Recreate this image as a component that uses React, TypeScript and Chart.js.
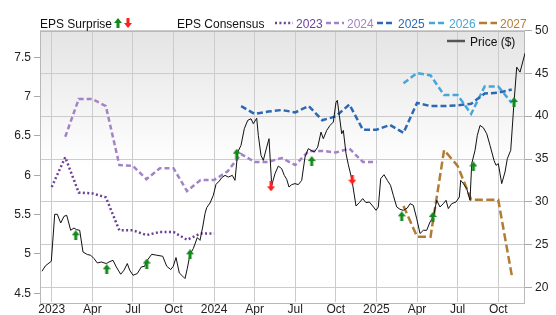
import React, { useEffect, useRef } from 'react';
import { Chart, registerables } from 'chart.js';

Chart.register(...registerables);

// ---- axis ticks ----
const xTickMonths = [0, 3, 6, 9, 12, 15, 18, 21, 24, 27, 30, 33];
const xTickLabels = ['2023', 'Apr', 'Jul', 'Oct', '2024', 'Apr', 'Jul', 'Oct', '2025', 'Apr', 'Jul', 'Oct'];
const leftTicks = [4.5, 5, 5.5, 6, 6.5, 7, 7.5];
const rightTicks = [20, 25, 30, 35, 40, 45, 50];

// ---- price (months since Jan 2023, $) ----
const priceMonths = [
  -0.717, -0.473, -0.03, 0.222, 0.414, 0.665, 0.909, 1.109, 1.404, 1.648, 1.818, 2.069, 2.313, 2.631, 2.882,
  3.126, 3.37, 3.666, 4.035, 4.235, 4.531, 4.775, 5.1, 5.344, 5.588, 5.765, 6.009, 6.327, 6.622, 6.874, 6.97,
  7.391, 7.761, 8.204, 8.5, 8.795, 8.987, 9.187, 9.431, 9.682, 9.852, 10.022, 10.222, 10.466, 10.761, 10.961,
  11.16, 11.33, 11.456, 11.7, 11.944, 12.143, 12.387, 12.565, 12.808, 13.052, 13.348, 13.548, 13.747, 13.991,
  14.235, 14.486, 14.73, 14.9, 15.152, 15.27, 15.469, 15.639, 15.891, 16.061, 16.26, 16.504, 16.748, 16.999,
  17.191, 17.369, 17.539, 17.738, 17.982, 18.226, 18.477, 18.721, 18.965, 19.165, 19.409, 19.66, 19.904,
  20.074, 20.325, 20.569, 20.813, 21.013, 21.109, 21.257, 21.434, 21.552, 21.752, 21.922, 22.173, 22.491,
  22.735, 22.986, 23.23, 23.474, 23.725, 23.969, 24.139, 24.316, 24.56, 24.804, 25.041, 25.248, 25.499,
  25.743, 25.987, 26.282, 26.482, 26.726, 26.977, 27.221, 27.465, 27.716, 27.96, 28.204, 28.455, 28.699,
  28.943, 29.143, 29.313, 29.564, 29.882, 30.126, 30.229, 30.421, 30.673, 30.917, 31.042, 31.286, 31.456,
  31.656, 31.9, 32.151, 32.395, 32.69, 32.838, 33.008, 33.259, 33.503, 33.673, 33.925, 34.169, 34.368,
  34.612, 34.982,
];
const priceValues = [
  21.9, 22.52, 23.07, 28.55, 28.55, 27.53, 28.31, 28.43, 26.68, 26.95, 26.76, 26.68, 24.15, 23.85, 23.77,
  23.38, 22.87, 22.98, 22.8, 22.98, 23.18, 22.4, 21.55, 22.02, 22.8, 22.02, 21.43, 21.63, 22.4, 22.48, 22.98,
  23.88, 23.77, 23.65, 22.48, 22.1, 22.48, 23.5, 21.7, 21.32, 21.05, 22.22, 23.88, 24.55, 25.83, 25.51,
  27.07, 28.63, 29.33, 29.86, 30.76, 32.04, 32.43, 32.82, 33.09, 32.89, 33.09, 32.51, 35.81, 36.59,
  38.54, 39.51, 39.7, 39.12, 39.77, 37.76, 35.42, 34.84, 36.39, 37.37, 31.93, 33.29, 34.18, 33.87,
  33.09, 32.63, 31.73, 32.01, 32.13, 32.01, 32.51, 35.23, 36.21, 36.01, 35.81, 36.39, 38.14,
  37.37, 38.34, 38.92, 39.31, 41.64, 41.84, 40.09, 37.95, 38.34, 35.62, 34.34, 32.71, 29.51,
  29.91, 30.38, 29.91, 29.98, 29.51, 29.01, 29.4, 32.71, 33.17, 32.51, 31.93, 30.76, 29.4,
  29.13, 29.01, 29.28, 29.79, 29.6, 28.04, 26.3, 26.68, 26.68, 27.65, 28.23, 30.18, 29.4,
  29.79, 30.18, 29.21, 29.79, 29.98, 30.56, 32.51, 32.13, 31.54, 30.18, 34.46, 36.01, 37.76,
  38.92, 38.65, 37.95, 36.59, 34.84, 34.26, 34.46, 32.13, 33.48, 35.04, 36.01, 41.64, 45.72,
  45.14, 47.35,
];

// ---- EPS surprise markers (month, price) ----
const beatMonths = [1.774, 4.065, 7.021, 10.222, 13.673, 19.217, 25.868, 28.16, 31.161, 34.169];
const beatPrices = [26.1, 22.13, 22.8, 23.88, 35.62, 34.76, 28.31, 28.23, 34.14, 41.64];
const missMonths = [16.208, 22.217];
const missPrices = [31.81, 32.59];

// ---- EPS consensus by fiscal year (monthly, first month index) ----
const eps2023Start = 0;
const eps2023 = [5.85, 6.23, 5.78, 5.77, 5.72, 5.3, 5.3, 5.24, 5.28, 5.28, 5.18, 5.26, 5.26];
const eps2024Start = 1;
const eps2024 = [6.49, 6.97, 6.97, 6.88, 6.13, 6.12, 5.95, 6.09, 6.09, 5.8, 5.94, 5.94, 6.05, 6.27, 6.17, 6.17,
  6.22, 6.13, 6.31, 6.31, 6.29, 6.34, 6.17, 6.17];
const eps2025Start = 14;
const eps2025 = [6.88, 6.78, 6.81, 6.83, 6.8, 6.88, 6.7, 6.75, 6.9, 6.58, 6.58, 6.64, 6.54, 6.92, 6.88, 6.88,
  6.89, 6.91, 7.04, 7.05, 7.09];
const eps2026Start = 26;
const eps2026 = [7.17, 7.3, 7.27, 7.02, 7.02, 6.78, 7.13, 7.13, 6.92];
const eps2027Start = 26;
const eps2027 = [5.61, 5.22, 5.22, 6.32, 6.12, 5.69, 5.69, 5.69, 4.73];

const seriesNames = ['2023', '2024', '2025', '2026', '2027'];
const seriesColors = ['#6d4096', '#a383c6', '#2b69b5', '#45a7d8', '#b27d33'];
const seriesDashes = [[2, 2.4], [5, 3], [6, 3], [6, 3], [8, 3.5]];

const FONT = "'Liberation Sans', Arial, Helvetica, sans-serif";

function makeArrow(color: string, up: boolean): HTMLCanvasElement {
  const c = document.createElement('canvas');
  c.width = 8;
  c.height = 10;
  const g = c.getContext('2d')!;
  g.fillStyle = color;
  g.beginPath();
  if (up) {
    g.moveTo(4, 0); g.lineTo(8, 5); g.lineTo(5.5, 5); g.lineTo(5.5, 10); g.lineTo(2.5, 10); g.lineTo(2.5, 5); g.lineTo(0, 5);
  } else {
    g.moveTo(4, 10); g.lineTo(8, 5); g.lineTo(5.5, 5); g.lineTo(5.5, 0); g.lineTo(2.5, 0); g.lineTo(2.5, 5); g.lineTo(0, 5);
  }
  g.closePath();
  g.fill();
  return c;
}

const toPoints = (start: number, vals: number[]) => vals.map((y, i) => ({ x: start + i, y }));

export default function App() {
  const ref = useRef<HTMLCanvasElement>(null);

  useEffect(() => {
    const canvas = ref.current;
    if (!canvas) return;
    const upArrow = makeArrow('#12891a', true);
    const downArrow = makeArrow('#ff1f1f', false);

    const bgPlugin = {
      id: 'bg',
      beforeDraw(chart: any) {
        const { ctx, chartArea: a } = chart;
        const grad = ctx.createLinearGradient(0, a.top, 0, a.top + 135);
        grad.addColorStop(0, '#e4e4e4');
        grad.addColorStop(1, '#ffffff');
        ctx.save();
        ctx.fillStyle = grad;
        ctx.fillRect(a.left, a.top, a.right - a.left, a.bottom - a.top);
        ctx.restore();
      },
      beforeDatasetsDraw(chart: any) {
        const { ctx, chartArea: a } = chart;
        ctx.save();
        ctx.strokeStyle = '#b8b8b8';
        ctx.lineWidth = 1;
        ctx.strokeRect(Math.round(a.left) + 0.5, Math.round(a.top) + 0.5, Math.round(a.right - a.left) - 1, Math.round(a.bottom - a.top));
        ctx.restore();
      },
      afterDraw(chart: any) {
        const ctx = chart.ctx;
        ctx.save();
        ctx.font = `12px ${FONT}`;
        ctx.textBaseline = 'alphabetic';
        ctx.textAlign = 'left';
        ctx.fillStyle = '#111';
        ctx.fillText('EPS Surprise', 40, 27.5);
        ctx.drawImage(upArrow, 114, 18);
        ctx.drawImage(downArrow, 124, 18);
        ctx.fillStyle = '#111';
        ctx.fillText('EPS Consensus', 177, 27.5);
        const lineX = [275, 326, 377, 429, 479];
        const textX = [296, 347, 398, 449, 500];
        for (let i = 0; i < 5; i++) {
          ctx.strokeStyle = seriesColors[i];
          ctx.lineWidth = 2.5;
          ctx.setLineDash(seriesDashes[i]);
          ctx.beginPath();
          ctx.moveTo(lineX[i], 23);
          ctx.lineTo(lineX[i] + 18, 23);
          ctx.stroke();
          ctx.setLineDash([]);
          ctx.fillStyle = seriesColors[i];
          ctx.fillText(seriesNames[i], textX[i], 27.5);
        }
        ctx.strokeStyle = '#555';
        ctx.lineWidth = 2.5;
        ctx.beginPath();
        ctx.moveTo(447, 41);
        ctx.lineTo(465, 41);
        ctx.stroke();
        ctx.fillStyle = '#111';
        ctx.fillText('Price ($)', 470, 46);
        ctx.restore();
      },
    };

    const consensus = [
      toPoints(eps2023Start, eps2023),
      toPoints(eps2024Start, eps2024),
      toPoints(eps2025Start, eps2025),
      toPoints(eps2026Start, eps2026),
      toPoints(eps2027Start, eps2027),
    ];

    const chart = new Chart(canvas, {
      type: 'line',
      data: {
        datasets: [
          {
            data: beatMonths.map((x, i) => ({ x, y: beatPrices[i] })),
            yAxisID: 'yR', showLine: false, pointStyle: upArrow as any, pointRadius: 5,
          },
          {
            data: missMonths.map((x, i) => ({ x, y: missPrices[i] })),
            yAxisID: 'yR', showLine: false, pointStyle: downArrow as any, pointRadius: 5,
          },
          {
            data: priceMonths.map((x, i) => ({ x, y: priceValues[i] })),
            yAxisID: 'yR', borderColor: '#111', borderWidth: 1, pointRadius: 0, tension: 0,
          },
          ...consensus.map((pts, i) => ({
            data: pts,
            yAxisID: 'yL',
            borderColor: seriesColors[i],
            borderWidth: 2.5,
            borderDash: seriesDashes[i],
            pointRadius: 0,
            tension: 0,
          })),
        ] as any,
      },
      options: {
        animation: false,
        responsive: false,
        devicePixelRatio: 1,
        layout: { padding: { top: 30.5, left: 0, right: 0, bottom: 0 } },
        plugins: { legend: { display: false }, tooltip: { enabled: false } },
        events: [],
        scales: {
          x: {
            type: 'linear',
            min: -0.865,
            max: 34.98,
            afterBuildTicks: (s: any) => { s.ticks = xTickMonths.map((v) => ({ value: v })); },
            afterFit: (s: any) => { s.height = 13; },
            grid: { color: '#cccccc', drawTicks: false },
            border: { display: false },
            ticks: {
              autoSkip: false, maxRotation: 0, padding: 0, color: '#222',
              font: { size: 12, family: FONT },
              callback: (v: any) => xTickLabels[xTickMonths.indexOf(Number(v))] ?? '',
            },
          },
          yL: {
            type: 'linear',
            position: 'left',
            min: 4.389,
            max: 7.841,
            afterBuildTicks: (s: any) => { s.ticks = leftTicks.map((v) => ({ value: v })); },
            afterFit: (s: any) => { s.width = 40; },
            grid: { drawOnChartArea: false, tickLength: 6, color: '#aaaaaa' },
            border: { display: false },
            ticks: { padding: 3, color: '#222', font: { size: 12, family: FONT }, callback: (v: any) => String(v) },
          },
          yR: {
            type: 'linear',
            position: 'right',
            min: 18.31,
            max: 50,
            afterBuildTicks: (s: any) => { s.ticks = rightTicks.map((v) => ({ value: v })); },
            afterFit: (s: any) => { s.width = 31; },
            grid: { color: '#cccccc', tickLength: 7, tickColor: '#aaaaaa' },
            border: { display: false },
            ticks: { padding: 3, color: '#222', font: { size: 12, family: FONT }, callback: (v: any) => String(v) },
          },
        },
      } as any,
      plugins: [bgPlugin],
    });
    return () => chart.destroy();
  }, []);

  return (
    <div style={{ position: 'absolute', left: 0, top: 0, width: 556, height: 315, background: '#fff' }}>
      <canvas ref={ref} width={556} height={315} style={{ display: 'block', width: 556, height: 315 }} />
    </div>
  );
}
